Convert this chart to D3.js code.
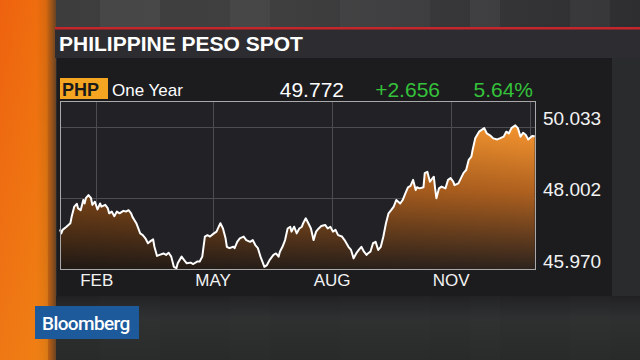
<!DOCTYPE html>
<html>
<head>
<meta charset="utf-8">
<script src="https://cdnjs.cloudflare.com/ajax/libs/d3/7.8.5/d3.min.js"></script>
<style>
  body { margin: 0; background: #2b2b2d; }
  svg { display: block; font-family: "Liberation Sans", Arial, sans-serif; }
</style>
</head>
<body>
<div id="chart"></div>
<script>
var dates = [
  "2016-01-04","2016-01-05","2016-01-06","2016-01-09","2016-01-12","2016-01-13","2016-01-15","2016-01-17",
  "2016-01-18","2016-01-20","2016-01-22","2016-01-23","2016-01-24","2016-01-26","2016-01-28","2016-01-29",
  "2016-01-31","2016-02-02","2016-02-04","2016-02-05","2016-02-08","2016-02-10","2016-02-11","2016-02-13",
  "2016-02-15","2016-02-17","2016-02-19","2016-02-22","2016-02-24","2016-02-26","2016-02-28","2016-02-29",
  "2016-03-03","2016-03-06","2016-03-08","2016-03-10","2016-03-12","2016-03-14","2016-03-16","2016-03-17",
  "2016-03-19","2016-03-21","2016-03-24","2016-03-26","2016-03-28","2016-03-30","2016-04-01","2016-04-03",
  "2016-04-04","2016-04-07","2016-04-09","2016-04-11","2016-04-14","2016-04-16","2016-04-19","2016-04-21",
  "2016-04-23","2016-04-25","2016-04-27","2016-04-29","2016-05-02","2016-05-04","2016-05-07","2016-05-09",
  "2016-05-11","2016-05-12","2016-05-14","2016-05-17","2016-05-18","2016-05-20","2016-05-22","2016-05-25",
  "2016-05-27","2016-05-30","2016-06-01","2016-06-03","2016-06-05","2016-06-07","2016-06-09","2016-06-10",
  "2016-06-12","2016-06-14","2016-06-17","2016-06-19","2016-06-21","2016-06-22","2016-06-24","2016-06-26",
  "2016-06-28","2016-06-30","2016-07-01","2016-07-03","2016-07-05","2016-07-07","2016-07-09","2016-07-10",
  "2016-07-12","2016-07-14","2016-07-16","2016-07-18","2016-07-20","2016-07-22","2016-07-24","2016-07-27",
  "2016-07-29","2016-07-31","2016-08-02","2016-08-04","2016-08-06","2016-08-09","2016-08-11","2016-08-14",
  "2016-08-16","2016-08-18","2016-08-20","2016-08-22","2016-08-24","2016-08-26","2016-08-28","2016-08-29",
  "2016-08-31","2016-09-02","2016-09-04","2016-09-06","2016-09-08","2016-09-10","2016-09-12","2016-09-14",
  "2016-09-16","2016-09-18","2016-09-20","2016-09-23","2016-09-25","2016-09-27","2016-09-29","2016-10-01",
  "2016-10-03","2016-10-05","2016-10-06","2016-10-08","2016-10-11","2016-10-12","2016-10-14","2016-10-16",
  "2016-10-17","2016-10-19","2016-10-20","2016-10-21","2016-10-23","2016-10-25","2016-10-28","2016-10-30",
  "2016-11-01","2016-11-03","2016-11-04","2016-11-07","2016-11-09","2016-11-11","2016-11-13","2016-11-15",
  "2016-11-17","2016-11-18","2016-11-20","2016-11-23","2016-11-25","2016-11-27","2016-11-29","2016-12-02",
  "2016-12-04","2016-12-07","2016-12-09","2016-12-12","2016-12-14","2016-12-16","2016-12-18","2016-12-21",
  "2016-12-23","2016-12-25","2016-12-27","2016-12-29","2016-12-31","2017-01-03","2017-01-05"
];
var values = [
  47.12,47.01,47.11,47.20,47.30,47.48,47.77,47.85,
  47.72,47.67,47.96,47.86,48.01,48.10,48.01,47.82,
  47.91,47.69,47.86,47.77,47.82,47.72,47.58,47.63,
  47.50,47.63,47.58,47.65,47.63,47.67,47.58,47.48,
  47.30,47.01,46.96,46.87,46.73,46.79,46.84,46.63,
  46.37,46.40,46.44,46.40,46.46,46.35,46.06,46.02,
  46.16,46.35,46.25,46.16,46.18,46.14,46.21,46.21,
  46.35,46.92,46.96,46.92,47.01,47.06,47.30,47.15,
  46.87,46.63,46.59,46.63,46.59,46.77,46.87,46.92,
  46.82,46.77,46.82,46.68,46.59,46.35,46.16,46.06,
  46.11,46.25,46.40,46.44,46.35,46.49,46.63,46.82,
  47.15,47.20,47.06,47.20,47.01,47.15,47.20,47.30,
  47.44,47.30,47.15,46.82,47.06,47.15,47.22,47.25,
  47.15,47.20,47.06,47.11,46.96,46.92,46.82,46.63,
  46.54,46.30,46.44,46.54,46.63,46.49,46.40,46.44,
  46.49,46.73,46.77,46.54,46.63,46.92,47.30,47.58,
  47.67,47.77,47.96,47.86,47.96,48.15,48.32,48.36,
  48.53,48.24,48.32,48.29,48.32,48.72,48.76,48.48,
  48.53,48.62,48.29,48.01,48.29,48.34,48.29,48.53,
  48.58,48.48,48.38,48.43,48.58,48.73,48.81,49.10,
  49.19,49.38,49.71,49.90,49.95,50.00,49.85,49.78,
  49.71,49.68,49.71,49.76,49.90,49.85,50.00,50.08,
  50.00,49.76,49.87,49.81,49.68,49.78,49.772
];

var yTicks = [45.970, 48.002, 50.033];
var gridDates = ["2016-02-01", "2016-05-01", "2016-08-01", "2016-11-01", "2017-01-01"];
var gridLabels = ["FEB", "MAY", "AUG", "NOV", ""];
var xDomain = ["2016-01-04", "2017-01-06"];

var title = "PHILIPPINE PESO SPOT";
var ticker = "PHP";
var period = "One Year";
var lastPrice = "49.772";
var netChange = "+2.656";
var pctChange = "5.64%";

var W = 640, H = 360;
var plot = {left: 60, right: 536, top: 101, bottom: 270};

var parse = d3.timeParse("%Y-%m-%d");
var data = dates.map(function(d, i) { return {date: parse(d), value: values[i]}; });

var svg = d3.select("#chart").append("svg")
  .attr("width", W)
  .attr("height", H);
var defs = svg.append("defs");

// --- studio backdrop ---
svg.append("rect").attr("width", W).attr("height", H).attr("fill", "#2a2b2c");
var topGrad = defs.append("linearGradient").attr("id", "topGrad")
  .attr("x1", 0).attr("x2", 1).attr("y1", 0).attr("y2", 0);
topGrad.append("stop").attr("offset", "0%").attr("stop-color", "#3c3c3d");
topGrad.append("stop").attr("offset", "40%").attr("stop-color", "#404041");
topGrad.append("stop").attr("offset", "100%").attr("stop-color", "#2e2e30");
svg.append("rect").attr("x", 0).attr("y", 0).attr("width", W).attr("height", 28)
  .attr("fill", "url(#topGrad)");
// faint vertical bands
[[100, 60, 0.05], [230, 40, 0.04], [340, 90, 0.03], [470, 30, 0.05], [570, 40, 0.04]].forEach(function(b) {
  svg.append("rect").attr("x", b[0]).attr("y", 0).attr("width", b[1]).attr("height", H)
    .attr("fill", "#ffffff").attr("opacity", b[2]);
});
var botGrad = defs.append("linearGradient").attr("id", "botGrad")
  .attr("x1", 0).attr("x2", 0).attr("y1", 0).attr("y2", 1);
botGrad.append("stop").attr("offset", "0%").attr("stop-color", "#202022");
botGrad.append("stop").attr("offset", "35%").attr("stop-color", "#2f3131");
botGrad.append("stop").attr("offset", "100%").attr("stop-color", "#282a2a");
svg.append("rect").attr("x", 52).attr("y", 296).attr("width", W - 52).attr("height", 64)
  .attr("fill", "url(#botGrad)").attr("opacity", 0.85);

// orange strip on the left
var orange = defs.append("linearGradient").attr("id", "orange")
  .attr("x1", 0).attr("x2", 1).attr("y1", 0).attr("y2", 0);
orange.append("stop").attr("offset", "0%").attr("stop-color", "#ee620f");
orange.append("stop").attr("offset", "65%").attr("stop-color", "#ef6d0e");
orange.append("stop").attr("offset", "82%").attr("stop-color", "#d8680e");
orange.append("stop").attr("offset", "100%").attr("stop-color", "#6a4422");
svg.append("rect").attr("x", 0).attr("y", 0).attr("width", 56).attr("height", H)
  .attr("fill", "url(#orange)");
var orangeV = defs.append("linearGradient").attr("id", "orangeV")
  .attr("x1", 0).attr("x2", 0).attr("y1", 0).attr("y2", 1);
orangeV.append("stop").attr("offset", "0%").attr("stop-color", "#f0a020").attr("stop-opacity", 0);
orangeV.append("stop").attr("offset", "100%").attr("stop-color", "#f0a020").attr("stop-opacity", 0.35);
svg.append("rect").attr("x", 0).attr("y", 0).attr("width", 48).attr("height", H)
  .attr("fill", "url(#orangeV)");

// --- title band ---
svg.append("rect").attr("x", 55).attr("y", 29).attr("width", W - 55).attr("height", 29)
  .attr("fill", "#2d2d31");
svg.append("rect").attr("x", 55).attr("y", 27).attr("width", W - 55).attr("height", 2.5)
  .attr("fill", "#c4262b");
svg.append("text").attr("x", 59).attr("y", 50.5)
  .attr("fill", "#ffffff").attr("font-size", 21).attr("font-weight", "bold")
  .text(title);

// --- chart panel ---
svg.append("rect").attr("x", 57).attr("y", 58).attr("width", 555).attr("height", 238)
  .attr("fill", "#1c1c1f");

// header row
svg.append("rect").attr("x", 60).attr("y", 78).attr("width", 48).attr("height", 21)
  .attr("fill", "#f4a622");
svg.append("text").attr("x", 62).attr("y", 96)
  .attr("fill", "#1a1a1a").attr("font-size", 18).attr("font-weight", "bold")
  .text(ticker);
svg.append("text").attr("x", 112).attr("y", 96)
  .attr("fill", "#ffffff").attr("font-size", 17)
  .text(period);
svg.append("text").attr("x", 344).attr("y", 97).attr("text-anchor", "end")
  .attr("fill", "#ffffff").attr("font-size", 21)
  .text(lastPrice);
svg.append("text").attr("x", 440).attr("y", 97).attr("text-anchor", "end")
  .attr("fill", "#35c23a").attr("font-size", 21)
  .text(netChange);
svg.append("text").attr("x", 533).attr("y", 97).attr("text-anchor", "end")
  .attr("fill", "#35c23a").attr("font-size", 21)
  .text(pctChange);

// scales
var x = d3.scaleTime()
  .domain(xDomain.map(parse))
  .range([plot.left, plot.right]);
var y = d3.scaleLinear()
  .domain([yTicks[0], yTicks[2]])
  .range([plot.bottom, 127]);

// plot background
svg.append("rect").attr("x", plot.left).attr("y", plot.top)
  .attr("width", plot.right - plot.left).attr("height", plot.bottom - plot.top)
  .attr("fill", "#222226");

// gridlines
var grid = svg.append("g");
grid.selectAll(".hgrid").data(yTicks.slice(1)).enter().append("line")
  .attr("x1", plot.left).attr("x2", plot.right)
  .attr("y1", function(d) { return Math.round(y(d)) + 0.5; })
  .attr("y2", function(d) { return Math.round(y(d)) + 0.5; })
  .attr("stroke", "#4c4c51").attr("stroke-width", 1);
grid.selectAll(".vgrid").data(gridDates).enter().append("line")
  .attr("x1", function(d) { return Math.round(x(parse(d))) + 0.5; })
  .attr("x2", function(d) { return Math.round(x(parse(d))) + 0.5; })
  .attr("y1", plot.top).attr("y2", plot.bottom)
  .attr("stroke", "#4c4c51").attr("stroke-width", 1);

// area fill: dark brown at the bottom to bright orange at the top
var fillGrad = defs.append("linearGradient").attr("id", "fillGrad")
  .attr("gradientUnits", "userSpaceOnUse")
  .attr("x1", 0).attr("x2", 0).attr("y1", 127).attr("y2", plot.bottom);
fillGrad.append("stop").attr("offset", "0%").attr("stop-color", "#f6952f");
fillGrad.append("stop").attr("offset", "45%").attr("stop-color", "#b0611f");
fillGrad.append("stop").attr("offset", "100%").attr("stop-color", "#2b221d");
var shade = defs.append("linearGradient").attr("id", "shade")
  .attr("gradientUnits", "userSpaceOnUse")
  .attr("x1", plot.left).attr("x2", plot.right).attr("y1", 0).attr("y2", 0);
shade.append("stop").attr("offset", "0%").attr("stop-color", "#000").attr("stop-opacity", 0.3);
shade.append("stop").attr("offset", "100%").attr("stop-color", "#000").attr("stop-opacity", 0);

var area = d3.area()
  .x(function(d) { return x(d.date); })
  .y0(plot.bottom)
  .y1(function(d) { return y(d.value); });
var line = d3.line()
  .x(function(d) { return x(d.date); })
  .y(function(d) { return y(d.value); });

svg.append("path").datum(data).attr("d", area).attr("fill", "url(#fillGrad)");
svg.append("path").datum(data).attr("d", area).attr("fill", "url(#shade)");
svg.append("path").datum(data).attr("d", line)
  .attr("fill", "none").attr("stroke", "#ffffff").attr("stroke-width", 2)
  .attr("stroke-linejoin", "round");

// plot border
svg.append("rect").attr("x", plot.left + 0.5).attr("y", plot.top + 0.5)
  .attr("width", plot.right - plot.left - 1).attr("height", plot.bottom - plot.top - 1)
  .attr("fill", "none").attr("stroke", "#a9a9ac").attr("stroke-width", 1);

// y axis labels on the right
var yAxis = d3.axisRight(y).tickValues(yTicks).tickSize(0).tickPadding(0)
  .tickFormat(d3.format(".3f"));
var yg = svg.append("g").attr("transform", "translate(543,0)").call(yAxis);
yg.select(".domain").remove();
yg.selectAll("text").attr("fill", "#f2f2f2").attr("font-size", 19)
  .attr("font-family", "'Liberation Sans', Arial, sans-serif")
  .attr("dy", "-0.15em");

// month labels
var xAxis = d3.axisBottom(x).tickValues(gridDates.map(parse)).tickSize(0).tickPadding(0)
  .tickFormat(function(d, i) { return gridLabels[i]; });
var xg = svg.append("g").attr("transform", "translate(0,274)").call(xAxis);
xg.select(".domain").remove();
xg.selectAll("text").attr("fill", "#f2f2f2").attr("font-size", 17)
  .attr("font-family", "'Liberation Sans', Arial, sans-serif");

// Bloomberg tag
svg.append("rect").attr("x", 35).attr("y", 306).attr("width", 104).attr("height", 33)
  .attr("fill", "#1c5a9c");
svg.append("text").attr("x", 42).attr("y", 330)
  .attr("fill", "#ffffff").attr("font-size", 19).attr("font-family", "Roboto, sans-serif")
  .attr("font-weight", 500).attr("letter-spacing", -0.6)
  .text("Bloomberg");
</script>
</body>
</html>
